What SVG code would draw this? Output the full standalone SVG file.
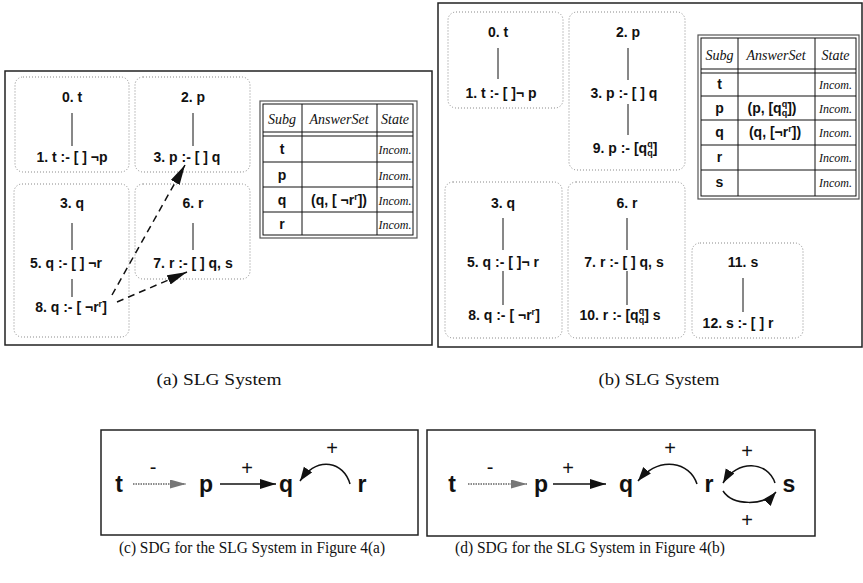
<svg xmlns="http://www.w3.org/2000/svg" width="863" height="583" viewBox="0 0 863 583">
<style>
.panel{fill:none;stroke:#222;stroke-width:1.5}
.box{fill:none;stroke:#888;stroke-width:1;stroke-dasharray:1 2}
.t{font-family:"Liberation Sans",Arial,sans-serif;font-weight:bold;font-size:14px;text-anchor:middle;fill:#111}
.tl{stroke:#111;stroke-width:1;fill:none}
.tb{fill:none;stroke:#111;stroke-width:1}
.tbo{fill:none;stroke:#555;stroke-width:1.2}
.hd{font-family:"Liberation Serif","Times New Roman",serif;font-style:italic;font-size:14px;text-anchor:middle;fill:#111}
.inc{font-family:"Liberation Serif","Times New Roman",serif;font-style:italic;font-size:12px;text-anchor:middle;fill:#111}
.cell{font-family:"Liberation Sans",Arial,sans-serif;font-weight:bold;font-size:14px;text-anchor:middle;fill:#111}
.big{font-family:"Liberation Sans",Arial,sans-serif;font-weight:bold;font-size:23px;text-anchor:middle;fill:#111}
.sign{font-family:"Liberation Sans",Arial,sans-serif;font-size:20px;text-anchor:middle;fill:#111}
.cap{font-family:"Liberation Serif","Times New Roman",serif;font-size:16px;text-anchor:middle;fill:#111}
.dash{stroke:#111;stroke-width:1.5;stroke-dasharray:7 5;fill:none}
.arr{stroke:#111;stroke-width:1.5;fill:none}
.dot{stroke:#666;stroke-width:1.5;stroke-dasharray:1.5 1;fill:none}
.sup{font-size:9px}
</style>
<defs>
<marker id="mDash" markerUnits="userSpaceOnUse" markerWidth="22" markerHeight="12" refX="20" refY="5" orient="auto"><path d="M0,0 L20,5 L0,10 Z" fill="#111"/></marker>
<marker id="mArr" markerUnits="userSpaceOnUse" markerWidth="18" markerHeight="12" refX="16" refY="5" orient="auto"><path d="M0,0 L16,5 L0,10 Z" fill="#111"/></marker>
<marker id="mGray" markerUnits="userSpaceOnUse" markerWidth="18" markerHeight="12" refX="16" refY="4.5" orient="auto"><path d="M0,0 L16,4.5 L0,9 Z" fill="#777"/></marker>
<marker id="mArc" markerUnits="userSpaceOnUse" markerWidth="16" markerHeight="12" refX="14" refY="5" orient="auto"><path d="M0,0 L14,5 L0,10 Z" fill="#111"/></marker>
</defs>

<!-- Panel frames -->
<g id="frames">
<rect class="panel" x="5" y="71" width="427" height="274"/>
<rect class="panel" x="438" y="3" width="424" height="344"/>
<rect class="panel" x="101" y="430" width="317" height="105"/>
<rect class="panel" x="427" y="430" width="388" height="106"/>
</g>

<!-- Panel (a) nodes -->
<g id="a-t">
<rect class="box" x="15" y="77" width="114" height="95" rx="8"/>
<text class="t" x="72" y="102">0. t</text>
<text class="t" x="72" y="162">1. t :- [ ]  ¬p</text>
</g>
<g id="a-p">
<rect class="box" x="135" y="77" width="115" height="95" rx="8"/>
<text class="t" x="193" y="102">2. p</text>
<text class="t" x="187" y="162">3. p :- [ ] q</text>
</g>
<g id="a-q">
<rect class="box" x="14" y="184" width="115" height="153" rx="8"/>
<text class="t" x="72" y="208">3. q</text>
<text class="t" x="66" y="268">5. q :- [ ]  ¬r</text>
<text class="t" x="71" y="312">8. q :- [ ¬r<tspan class="sup" dy="-5">r</tspan><tspan dy="5">]</tspan></text>
</g>
<g id="a-r">
<rect class="box" x="135" y="184" width="115" height="95" rx="8"/>
<text class="t" x="193" y="208">6. r</text>
<text class="t" x="193" y="268">7. r :- [ ] q, s</text>
</g>
<g id="a-table">
<rect class="tbo" x="260" y="101" width="157" height="137"/>
<rect class="tb" x="263" y="104" width="150" height="131"/>
<line class="tb" x1="263" y1="132" x2="413" y2="132"/>
<line class="tb" x1="263" y1="136" x2="413" y2="136"/>
<line class="tb" x1="263" y1="162" x2="413" y2="162"/>
<line class="tb" x1="263" y1="187" x2="413" y2="187"/>
<line class="tb" x1="263" y1="212" x2="413" y2="212"/>
<line class="tb" x1="302" y1="104" x2="302" y2="235"/>
<line class="tb" x1="377" y1="104" x2="377" y2="235"/>
<text class="hd" x="282" y="124">Subg</text>
<text class="hd" x="339" y="124">AnswerSet</text>
<text class="hd" x="395" y="124">State</text>
<text class="cell" x="282" y="154">t</text>
<text class="cell" x="282" y="180">p</text>
<text class="cell" x="282" y="205">q</text>
<text class="cell" x="282" y="229">r</text>
<text class="cell" x="339" y="205">(q, [ ¬r<tspan class="sup" dy="-5">r</tspan><tspan dy="5">])</tspan></text>
<text class="inc" x="395" y="154">Incom.</text>
<text class="inc" x="395" y="180">Incom.</text>
<text class="inc" x="395" y="205">Incom.</text>
<text class="inc" x="395" y="229">Incom.</text>
</g>

<!-- Panel (b) nodes -->
<g id="b-t">
<rect class="box" x="448" y="12" width="115" height="96" rx="8"/>
<text class="t" x="498" y="37">0. t</text>
<text class="t" x="501" y="98">1. t :- [ ]¬ p</text>
</g>
<g id="b-p">
<rect class="box" x="569" y="12" width="116" height="158" rx="8"/>
<text class="t" x="628" y="37">2. p</text>
<text class="t" x="624" y="98">3. p :- [ ] q</text>
<text class="t" x="625" y="153">9. p :- [q<tspan class="sup" dy="-6">q</tspan><tspan class="sup" dx="-5.5" dy="9">q</tspan><tspan dy="-3">]</tspan></text>
</g>
<g id="b-q">
<rect class="box" x="445" y="182" width="117" height="156" rx="8"/>
<text class="t" x="503" y="208">3. q</text>
<text class="t" x="503" y="267">5. q :- [ ]¬ r</text>
<text class="t" x="504" y="320">8. q :- [ ¬r<tspan class="sup" dy="-5">r</tspan><tspan dy="5">]</tspan></text>
</g>
<g id="b-r">
<rect class="box" x="568" y="182" width="117" height="156" rx="8"/>
<text class="t" x="627" y="208">6. r</text>
<text class="t" x="624" y="267">7. r :- [ ] q, s</text>
<text class="t" x="620" y="320">10. r :- [q<tspan class="sup" dy="-6">q</tspan><tspan class="sup" dx="-5.5" dy="9">q</tspan><tspan dy="-3">] s</tspan></text>
</g>
<g id="b-s">
<rect class="box" x="692" y="243" width="111" height="95" rx="8"/>
<text class="t" x="743" y="267">11. s</text>
<text class="t" x="738" y="328">12. s :- [ ] r</text>
</g>
<g id="b-table">
<rect class="tbo" x="698" y="35" width="161" height="164"/>
<rect class="tb" x="701" y="38" width="155" height="158"/>
<line class="tb" x1="701" y1="69" x2="856" y2="69"/>
<line class="tb" x1="701" y1="73" x2="856" y2="73"/>
<line class="tb" x1="701" y1="96" x2="856" y2="96"/>
<line class="tb" x1="701" y1="120" x2="856" y2="120"/>
<line class="tb" x1="701" y1="145" x2="856" y2="145"/>
<line class="tb" x1="701" y1="170" x2="856" y2="170"/>
<line class="tb" x1="738" y1="38" x2="738" y2="196"/>
<line class="tb" x1="815" y1="38" x2="815" y2="196"/>
<text class="hd" x="719.5" y="60">Subg</text>
<text class="hd" x="776" y="60">AnswerSet</text>
<text class="hd" x="835.5" y="60">State</text>
<text class="cell" x="719.5" y="89">t</text>
<text class="cell" x="719.5" y="113">p</text>
<text class="cell" x="719.5" y="137">q</text>
<text class="cell" x="719.5" y="162">r</text>
<text class="cell" x="719.5" y="187">s</text>
<text class="cell" x="772" y="113">(p, [q<tspan class="sup" dy="-6">q</tspan><tspan class="sup" dx="-5.5" dy="9">q</tspan><tspan dy="-3">])</tspan></text>
<text class="cell" x="775" y="137">(q, [¬r<tspan class="sup" dy="-5">r</tspan><tspan dy="5">])</tspan></text>
<text class="inc" x="835.5" y="89">Incom.</text>
<text class="inc" x="835.5" y="113">Incom.</text>
<text class="inc" x="835.5" y="137">Incom.</text>
<text class="inc" x="835.5" y="162">Incom.</text>
<text class="inc" x="835.5" y="187">Incom.</text>
</g>

<!-- SDG (c) nodes -->
<g id="c-t"><text class="big" x="119" y="492">t</text></g>
<g id="c-p"><text class="big" x="206" y="492">p</text></g>
<g id="c-q"><text class="big" x="286" y="492">q</text></g>
<g id="c-r"><text class="big" x="362" y="492">r</text></g>

<!-- SDG (d) nodes -->
<g id="d-t"><text class="big" x="452" y="492">t</text></g>
<g id="d-p"><text class="big" x="541" y="492">p</text></g>
<g id="d-q"><text class="big" x="626" y="492">q</text></g>
<g id="d-r"><text class="big" x="709" y="492">r</text></g>
<g id="d-s"><text class="big" x="789" y="492">s</text></g>

<!-- Connectors -->
<g id="connectors">
<!-- tree edges (a) -->
<line class="tl" x1="72" y1="113" x2="72" y2="146"/>
<line class="tl" x1="193" y1="113" x2="193" y2="146"/>
<line class="tl" x1="72" y1="223" x2="72" y2="250"/>
<line class="tl" x1="72" y1="279" x2="72" y2="297"/>
<line class="tl" x1="193" y1="223" x2="193" y2="250"/>
<!-- dashed dependencies (a) -->
<line class="dash" x1="112" y1="295" x2="185" y2="165" marker-end="url(#mDash)"/>
<line class="dash" x1="117" y1="302" x2="187" y2="272" marker-end="url(#mDash)"/>
<!-- tree edges (b) -->
<line class="tl" x1="498" y1="48" x2="498" y2="79"/>
<line class="tl" x1="628" y1="48" x2="628" y2="80"/>
<line class="tl" x1="628" y1="104" x2="628" y2="135"/>
<line class="tl" x1="503" y1="218" x2="503" y2="250"/>
<line class="tl" x1="503" y1="271" x2="503" y2="305"/>
<line class="tl" x1="627" y1="218" x2="627" y2="250"/>
<line class="tl" x1="627" y1="271" x2="627" y2="305"/>
<line class="tl" x1="743" y1="278" x2="743" y2="312"/>
<!-- SDG (c) edges -->
<line class="dot" x1="133" y1="484" x2="186" y2="484" marker-end="url(#mGray)"/>
<text class="sign" x="153" y="474">-</text>
<line class="arr" x1="220" y1="484" x2="276" y2="484" marker-end="url(#mArr)"/>
<text class="sign" x="247" y="475">+</text>
<path class="arr" d="M350,484 C344,462 318,455 300,481" marker-end="url(#mArc)"/>
<text class="sign" x="332" y="455">+</text>
<!-- SDG (d) edges -->
<line class="dot" x1="468" y1="484" x2="527" y2="484" marker-end="url(#mGray)"/>
<text class="sign" x="490" y="474">-</text>
<line class="arr" x1="553" y1="484" x2="606" y2="484" marker-end="url(#mArr)"/>
<text class="sign" x="568" y="475">+</text>
<path class="arr" d="M697,484 C690,462 660,455 638,481" marker-end="url(#mArc)"/>
<text class="sign" x="670" y="455">+</text>
<path class="arr" d="M775,483 C768,461 737,459 723,483" marker-end="url(#mArc)"/>
<text class="sign" x="747" y="458">+</text>
<path class="arr" d="M723,491 C733,506 764,506 776,492" marker-end="url(#mArc)"/>
<text class="sign" x="747" y="527">+</text>
</g>

<!-- Captions -->
<g id="captions">
<text class="cap" x="219" y="385" textLength="125" lengthAdjust="spacingAndGlyphs">(a) SLG System</text>
<text class="cap" x="659" y="385" textLength="121" lengthAdjust="spacingAndGlyphs">(b) SLG System</text>
<text class="cap" x="252" y="553" textLength="266" lengthAdjust="spacingAndGlyphs">(c) SDG for the SLG System in Figure 4(a)</text>
<text class="cap" x="590" y="553" textLength="270" lengthAdjust="spacingAndGlyphs">(d) SDG for the SLG System in Figure 4(b)</text>
</g>
</svg>
